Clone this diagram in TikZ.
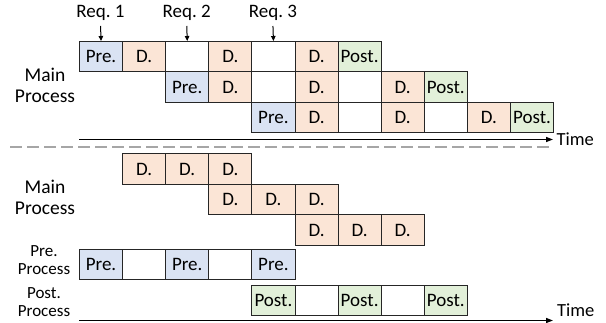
\documentclass[tikz,border=0pt]{standalone}
\usepackage{fontspec}
\setmainfont{Carlito}
\usetikzlibrary{arrows.meta}
\definecolor{preC}{HTML}{DAE3F3}
\definecolor{dC}{HTML}{FBE5D6}
\definecolor{postC}{HTML}{E2F0D9}
\definecolor{lineC}{HTML}{262626}
\begin{document}
\begin{tikzpicture}[x=1pt,y=-1pt,
 cell/.style={draw=lineC, line width=1pt, minimum width=43.1pt, minimum height=30.5pt, inner sep=0pt, anchor=north west, font=\fontsize{19}{21}\selectfont},
 precell/.style={cell, fill=preC, node contents={Pre.}},
 dcell/.style={cell, fill=dC, node contents={D.}},
 wcell/.style={cell, fill=white, node contents={}},
 postcell/.style={cell, fill=postC, node contents={Post.}},
 lab/.style={align=center, inner sep=0pt, font=\fontsize{19.5}{21}\selectfont},
 slab/.style={align=center, inner sep=0pt, font=\fontsize{17}{18}\selectfont},
 axisline/.style={line width=1.4pt, draw=black, -{Triangle[length=7pt,width=5pt]}},
 reqlab/.style={inner sep=0pt, anchor=base, font=\fontsize{19}{21}\selectfont},
 reqarrow/.style={line width=1pt, -{Triangle[length=5pt,width=4.5pt]}},
 timelab/.style={inner sep=0pt, font=\fontsize{18.5}{20}\selectfont},
 dashline/.style={draw=black!35, line width=1.3pt, dash pattern=on 12pt off 5pt},
]
\useasboundingbox (0,0) rectangle (606,323);
% top section
\foreach \c/\k in {0/precell,1/dcell,2/wcell,3/dcell,4/wcell,5/dcell,6/postcell}
  \node (a\c) at ({79+43.1*\c},41) [\k];
\foreach \c/\k in {2/precell,3/dcell,4/wcell,5/dcell,6/wcell,7/dcell,8/postcell}
  \node (b\c) at ({79+43.1*\c},71.5) [\k];
\foreach \c/\k in {4/precell,5/dcell,6/wcell,7/dcell,8/wcell,9/dcell,10/postcell}
  \node (c\c) at ({79+43.1*\c},102) [\k];
% requests
\node[reqlab] (req1) at ({79+43.1*0.5},18) {Req.~1};
\node[reqlab] (req2) at ({79+43.1*2.5},18) {Req.~2};
\node[reqlab] (req3) at ({79+43.1*4.5},18) {Req.~3};
\draw[reqarrow] ([yshift=-8pt]req1.base) -- (a0.north);
\draw[reqarrow] ([yshift=-8pt]req2.base) -- (a2.north);
\draw[reqarrow] ([yshift=-8pt]req3.base) -- (a4.north);
% top axis
\coordinate (t1s) at (79,139.5);
\coordinate (t1e) at (553,139.5);
\draw[axisline] (t1s) -- (t1e);
\node[timelab, anchor=west] (time1) at ([xshift=3.5pt]t1e) {Time};
\node[lab] (mp1) at (45,85) {Main\\Process};
% dashed separator
\coordinate (ds) at (10,147);
\coordinate (de) at (553,147);
\draw[dashline] (ds) -- (de);
% bottom section
\foreach \c in {1,2,3}
  \node (d\c) at ({79+43.1*\c},153.5) [dcell];
\foreach \c in {3,4,5}
  \node (e\c) at ({79+43.1*\c},184) [dcell];
\foreach \c in {5,6,7}
  \node (f\c) at ({79+43.1*\c},214.5) [dcell];
\foreach \c/\k in {0/precell,1/wcell,2/precell,3/wcell,4/precell}
  \node (p\c) at ({79+43.1*\c},249) [\k];
\foreach \c/\k in {4/postcell,5/wcell,6/postcell,7/wcell,8/postcell}
  \node (q\c) at ({79+43.1*\c},285) [\k];
\node[lab] (mp2) at (45,197.5) {Main\\Process};
\node[slab] (pp) at (44,260.5) {Pre.\\Process};
\node[slab] (qp) at (44,302) {Post.\\Process};
% bottom axis
\coordinate (t2s) at (79,320.5);
\coordinate (t2e) at (553,320.5);
\draw[axisline] (t2s) -- (t2e);
\node[timelab, anchor=base west] (time2) at ([xshift=4pt,yshift=3.5pt]t2e) {Time};
\end{tikzpicture}
\end{document}
